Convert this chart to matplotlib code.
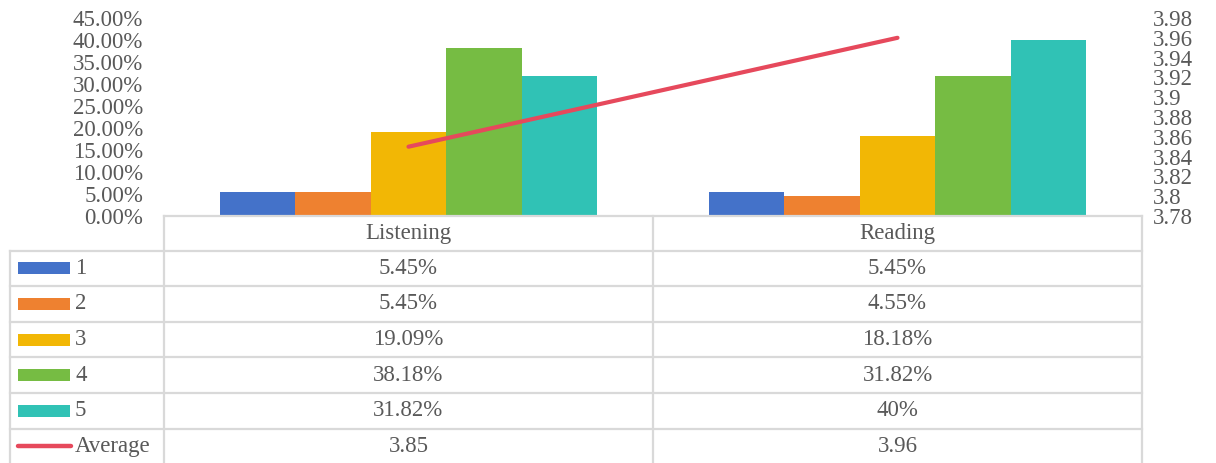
import matplotlib
matplotlib.use("Agg")
import matplotlib.pyplot as plt
from matplotlib.ticker import FuncFormatter, MultipleLocator
from matplotlib.lines import Line2D
from matplotlib.patches import Rectangle

# survey data: share of answers per score, per skill
categories = ["Listening", "Reading"]
scores = ["1", "2", "3", "4", "5"]
score_1 = [5.45, 5.45]
score_2 = [5.45, 4.55]
score_3 = [19.09, 18.18]
score_4 = [38.18, 31.82]
score_5 = [31.82, 40.0]
average = [3.85, 3.96]

series = [score_1, score_2, score_3, score_4, score_5]
colors = ["#4472C9", "#EE8130", "#F2B705", "#76BC43", "#30C2B5"]
line_color = "#E6495C"
text_color = "#595959"
grid_color = "#D9D9D9"

plt.rcParams["font.family"] = ["Liberation Serif", "DejaVu Serif"]
FS = 16.5

W, H = 1216, 463
fig = plt.figure(figsize=(W / 100, H / 100), dpi=100)

# plot area in pixels
px_left, px_right = 164, 1142
px_top, px_bottom = 18, 216
ax = fig.add_axes([px_left / W, 1 - px_bottom / H,
                   (px_right - px_left) / W, (px_bottom - px_top) / H])

n = len(series)
group = 0.771
bw = group / n
x = list(range(len(categories)))
for i, (vals, c) in enumerate(zip(series, colors)):
    xs = [xi + (i - (n - 1) / 2) * bw for xi in x]
    ax.bar(xs, vals, width=bw, color=c, edgecolor="none", zorder=2)

ax.set_xlim(-0.5, len(categories) - 0.5)
ax.set_ylim(0, 45)
ax.yaxis.set_major_locator(MultipleLocator(5))
ax.yaxis.set_major_formatter(FuncFormatter(lambda v, p: f"{v:.2f}%"))
ax.set_xticks([])
ax.tick_params(axis="y", length=0, pad=15, labelsize=FS, labelcolor=text_color)
for s in ax.spines.values():
    s.set_visible(False)

ax2 = ax.twinx()
ax2.plot(x, average, color=line_color, lw=3, solid_capstyle="round", zorder=3)
ax2.set_ylim(3.78, 3.98)
ax2.yaxis.set_major_locator(MultipleLocator(0.02))
ax2.yaxis.set_major_formatter(FuncFormatter(lambda v, p: f"{round(v, 2):g}"))
ax2.tick_params(axis="y", length=0, pad=8, labelsize=FS, labelcolor=text_color)
for s in ax2.spines.values():
    s.set_visible(False)

# data table below the chart, in pixel coordinates
ov = fig.add_axes([0, 0, 1, 1], facecolor="none")
ov.set_xlim(0, W)
ov.set_ylim(H, 0)
ov.axis("off")

tbl_left = 10
row_h = 35.6
header_bottom = 250.5
col_mid = (px_left + px_right) / 2
lw = 1.6

ov.add_line(Line2D([px_left, px_right], [px_bottom, px_bottom], color=grid_color, lw=lw))
rows = len(series) + 1
for r in range(rows):
    y = header_bottom + r * row_h
    ov.add_line(Line2D([tbl_left, px_right], [y, y], color=grid_color, lw=lw))
for xv in (px_left, col_mid, px_right):
    ov.add_line(Line2D([xv, xv], [px_bottom, H], color=grid_color, lw=lw))
ov.add_line(Line2D([tbl_left, tbl_left], [header_bottom, H], color=grid_color, lw=lw))

centers = [(px_left + col_mid) / 2, (col_mid + px_right) / 2]
for cx, name in zip(centers, categories):
    ov.text(cx, (px_bottom + header_bottom) / 2, name, ha="center", va="center",
            fontsize=FS, color=text_color)

labels = scores + ["Average"]
cells = [[f"{v:g}%" for v in s] for s in series] + [[f"{v:g}" for v in average]]
for r in range(rows):
    yc = header_bottom + (r + 0.5) * row_h
    if r < len(series):
        ov.add_patch(Rectangle((18, yc - 6), 52, 12, color=colors[r], lw=0))
    else:
        ov.add_line(Line2D([18, 71], [yc, yc], color=line_color, lw=3.2,
                           solid_capstyle="round"))
    ov.text(75, yc, labels[r], ha="left", va="center", fontsize=FS, color=text_color)
    for cx, val in zip(centers, cells[r]):
        ov.text(cx, yc, val, ha="center", va="center", fontsize=FS, color=text_color)

fig.savefig("out.png", dpi=100, facecolor="white")
